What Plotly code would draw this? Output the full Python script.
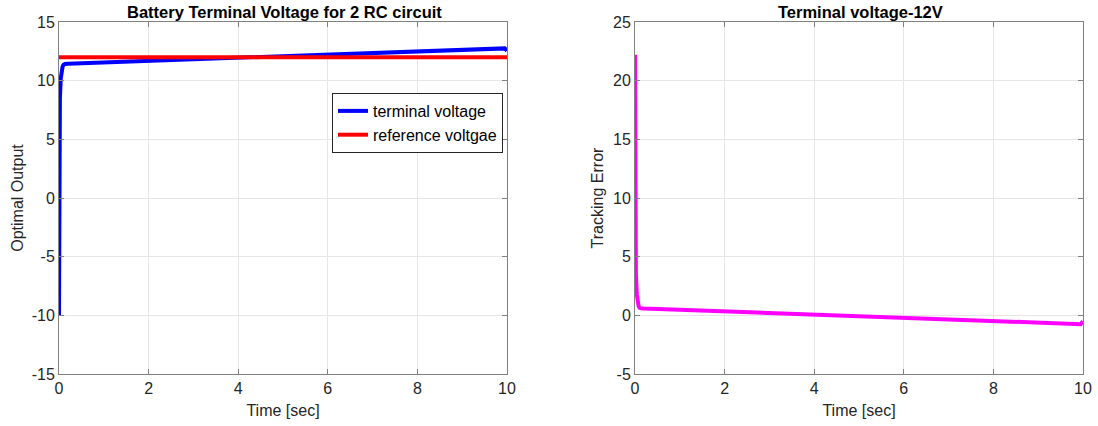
import plotly.graph_objects as go

# Left plot data
t_v = [0.0, 0.0, 0.005, 0.02, 0.04, 0.06, 0.08, 0.1, 0.13, 0.2, 9.85, 9.95, 10.0]
v_term = [-10.0, 1.5, 5.0, 8.5, 10.2, 10.9, 11.2, 11.35, 11.42, 11.45, 12.8, 12.75, 12.55]
t_ref = [0.0, 10.0]
v_ref = [12.0, 12.0]

# Right plot data
t_e = [0.0, 0.0, 0.005, 0.02, 0.04, 0.06, 0.08, 0.1, 0.13, 0.2, 9.85, 9.95, 10.0]
err = [22.2, 10.7, 7.0, 3.5, 1.8, 1.1, 0.8, 0.65, 0.6, 0.58, -0.78, -0.75, -0.5]

x_ticks = [0, 2, 4, 6, 8, 10]
y1_ticks = [-15, -10, -5, 0, 5, 10, 15]
y2_ticks = [-5, 0, 5, 10, 15, 20, 25]

W, H = 1098, 426
def px(x): return x / W
def py(y): return 1 - y / H

fig = go.Figure()
fig.add_trace(go.Scatter(x=t_v, y=v_term, mode="lines", name="terminal voltage",
                         line=dict(color="#0000ff", width=4), xaxis="x", yaxis="y"))
fig.add_trace(go.Scatter(x=t_ref, y=v_ref, mode="lines", name="reference voltgae",
                         line=dict(color="#ff0000", width=4), xaxis="x", yaxis="y"))
fig.add_trace(go.Scatter(x=t_e, y=err, mode="lines", name="error", showlegend=False,
                         line=dict(color="#ff00ff", width=4), xaxis="x2", yaxis="y2"))

FAM = "Liberation Sans, Arial, sans-serif"
font = dict(family=FAM, size=16, color="#262626")
axcommon = dict(showline=True, linecolor="#808080", linewidth=1, mirror="ticks",
                ticks="inside", ticklen=5, tickcolor="#808080", automargin=False,
                showgrid=True, gridcolor="#e6e6e6", gridwidth=1, zeroline=False,
                tickfont=dict(family=FAM, size=16, color="#262626"))
tfont = dict(family=FAM, size=16, color="#262626")

def lbl(v): return [str(x) for x in v]

fig.update_layout(
    width=W, height=H,
    margin=dict(l=0, r=0, t=0, b=0),
    paper_bgcolor="white", plot_bgcolor="white",
    font=font,
    xaxis=dict(domain=[px(59), px(507)], range=[0, 10], tickvals=x_ticks, ticktext=lbl(x_ticks),
               title=dict(text="Time [sec]", standoff=8, font=tfont), anchor="y", **axcommon),
    yaxis=dict(domain=[py(374), py(22)], range=[-15, 15], tickvals=y1_ticks, ticktext=lbl(y1_ticks),
               title=dict(text="Optimal Output", standoff=4, font=tfont), anchor="x", **axcommon),
    xaxis2=dict(domain=[px(635), px(1083)], range=[0, 10], tickvals=x_ticks, ticktext=lbl(x_ticks),
                title=dict(text="Time [sec]", standoff=8, font=tfont), anchor="y2", **axcommon),
    yaxis2=dict(domain=[py(374), py(22)], range=[-5, 25], tickvals=y2_ticks, ticktext=lbl(y2_ticks),
                title=dict(text="Tracking Error", standoff=5, font=tfont), anchor="x2", **axcommon),
    legend=dict(x=px(332), y=py(93), xanchor="left", yanchor="top",
                bgcolor="white", bordercolor="#262626", borderwidth=1,
                font=dict(family=FAM, size=16, color="#000000"), tracegroupgap=0),
    annotations=[
        dict(text="<b>Battery Terminal Voltage for 2 RC circuit</b>", x=px(284), y=py(12),
             xref="paper", yref="paper", showarrow=False, font=dict(family=FAM, size=16.5, color="#000000"),
             xanchor="center", yanchor="middle"),
        dict(text="<b>Terminal voltage-12V</b>", x=px(860), y=py(12),
             xref="paper", yref="paper", showarrow=False, font=dict(family=FAM, size=16.5, color="#000000"),
             xanchor="center", yanchor="middle"),
    ],
)

fig.write_html("out.html", post_script="document.body.style.margin='0';",
               config={"displayModeBar": False})
